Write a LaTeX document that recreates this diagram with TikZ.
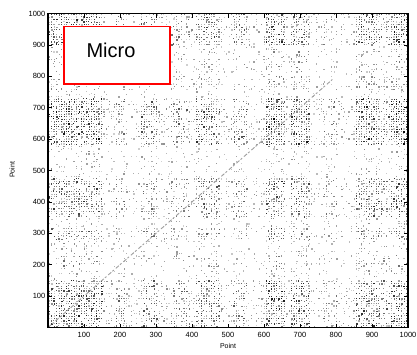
\documentclass[tikz,border=0pt]{standalone}
\usepackage{fontspec}
\setmainfont{Liberation Sans}
\newcount\dd
\newcount\vv
\newcount\pp
\def\xbands{0/150/88,185/212/55,258/308/65,340/392/55,412/476/75,512/552/62,602/662/92,672/726/85,762/808/48,852/922/85,926/948/62,952/1000/92}
\def\ybands{0/152/88,188/228/45,278/316/62,348/472/75,578/726/94,756/800/45,808/884/40,896/1000/85}
\begin{document}
\begin{tikzpicture}[x=1pt,y=-1pt,
  frame/.style={line width=1.2pt,black},
  tickmark/.style={line width=0.6pt,black},
  ticklab/.style={font=\fontsize{7.5}{8}\selectfont,inner sep=0pt},
  axlab/.style={font=\fontsize{7}{8}\selectfont,inner sep=0pt},
  microbox/.style={draw=red,line width=1.5pt,fill=white},
  microtext/.style={font=\fontsize{20}{22}\selectfont,inner sep=0pt},
  diag/.style={draw=black!38,line width=0.9pt,dash pattern=on 4pt off 1.5pt on 2pt off 2.5pt}]
\useasboundingbox (0,0) rectangle (417,354);
\fill[white] (0,0) rectangle (417,354);
% column and row densities (144 columns, 126 rows of 2.5 pt cells)
\foreach \i in {0,...,143}{%
  \global\dd=\numexpr(\i*125+62)/18\relax
  \global\vv=27
  \foreach \lo/\hi/\val in \xbands{%
    \ifnum\dd<\lo\else\ifnum\dd>\hi\else\global\vv=\val\fi\fi}%
  \expandafter\xdef\csname Fx\i\endcsname{\the\vv}%
}
\foreach \j in {0,...,125}{%
  \global\dd=\numexpr(\j*1000+500)/126\relax
  \global\vv=27
  \foreach \lo/\hi/\val in \ybands{%
    \ifnum\dd<\lo\else\ifnum\dd>\hi\else\global\vv=\val\fi\fi}%
  \expandafter\xdef\csname Gy\j\endcsname{\the\vv}%
}
\pgfmathsetseed{4711}
\foreach \i in {0,...,143}{%
  \foreach \j in {0,...,125}{%
    \pp=\numexpr\csname Fx\i\endcsname*\csname Gy\j\endcsname\relax
    \pgfmathrandominteger{\r}{0}{9999}%
    \ifnum\r<\pp
      \pgfmathrandominteger{\s}{18}{\the\numexpr 28+\pp/125\relax}%
      \pgfmathrandominteger{\u}{0}{10}%
      \pgfmathrandominteger{\w}{9}{16}%
      \fill[black!\s] ({48+2.5*\i+\u/12},{327.5-2.492*(\j+1)+\u/14}) rectangle ++(\w/10,\w/10);
    \fi
  }%
}
% diagonal
\coordinate (d0) at (48,327.5);
\coordinate (d1) at ({48+0.36*790},{327.5-0.314*790});
\draw[diag] (d0) -- (d1);
% frame
\coordinate (bl) at (48,327.5);
\coordinate (tr) at (408,13.5);
\draw[frame] (bl) rectangle (tr);
% ticks
\foreach \k in {1,...,9}{%
  \draw[tickmark] ({48+36*\k},327.5) -- ++(0,-4);
  \draw[tickmark] ({48+36*\k},13.5) -- ++(0,4);
  \draw[tickmark] (48,{327.5-31.4*\k}) -- ++(4,0);
  \draw[tickmark] (408,{327.5-31.4*\k}) -- ++(-4,0);
}
\foreach \k in {1,...,10}{%
  \node[ticklab,anchor=center] (xl\k) at ({48+36*\k},335.2) {\the\numexpr\k*100\relax};
  \node[ticklab,anchor=east] (yl\k) at (45.5,{327.5-31.4*\k}) {\the\numexpr\k*100\relax};
}
\node[axlab] (xlab) at (228,346) {Point};
\node[axlab,rotate=90] (ylab) at (12,170) {Point};
% red box
\node[microbox,minimum width=106pt,minimum height=57.5pt,inner sep=0pt] (box) at (117,55) {};
\node[microtext] (micro) at (111,50) {Micro};
\end{tikzpicture}
\end{document}
